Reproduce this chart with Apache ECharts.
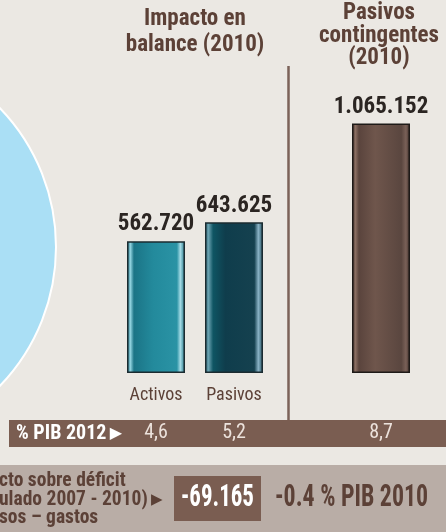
<!DOCTYPE html>
<html>
<head>
<meta charset="utf-8">
<script src="https://cdn.jsdelivr.net/npm/echarts@6/dist/echarts.min.js"></script>
<style>
  html, body { margin: 0; padding: 0; background: #ebe8e3; }
  #chart { width: 446px; height: 532px; }
</style>
</head>
<body>
<div id="chart"></div>
<script>
// datos
var categories = ['Activos', 'Pasivos'];
var balanceValues = [562720, 643625];
var balancePib = ['4,6', '5,2'];
var contingentCategories = [''];
var contingentValues = [1065152];
var contingentPib = ['8,7'];
var deficitValue = '-69.165';
var deficitPib = '-0.4 % PIB 2010';

var FONT = "'Roboto Condensed', Roboto, sans-serif";
var BROWN = '#5c4137';
var BAND = '#7a5d51';

// 562720 -> 562.720
var fmt = function(v) {
    return String(v).replace(/\B(?=(\d{3})+(?!\d))/g, '.');
};

var grad = function(stops) {
    return new echarts.graphic.LinearGradient(0, 0, 1, 0, stops.map(function(s) {
        return { offset: s[0], color: s[1] };
    }));
};

var barStyles = [
    grad([[0, '#1c6f80'], [0.06, '#8fd0dd'], [0.12, '#1b7486'], [0.45, '#238a9c'], [0.86, '#2a93a5'], [0.92, '#a5dbe6'], [1, '#1f7384']]),
    grad([[0, '#2d6a78'], [0.06, '#6aa1b0'], [0.14, '#0f5563'], [0.35, '#0f3d4c'], [0.85, '#15414f'], [0.92, '#8ab3c6'], [1, '#1d4b5a']])
];
var contingentStyle = grad([[0, '#3d2d28'], [0.06, '#8a6e62'], [0.12, '#5a443d'], [0.4, '#6f564c'], [0.85, '#5a463f'], [0.93, '#7a6158'], [1, '#3d2d28']]);

var valueLabel = {
    show: true,
    position: 'top',
    distance: 5,
    fontFamily: FONT,
    fontWeight: 'bold',
    fontSize: 23,
    color: '#2b2522',
    formatter: function(p) { return fmt(p.value); }
};

var catAxis = function(gridIndex, data) {
    return {
        type: 'category',
        gridIndex: gridIndex,
        data: data,
        axisLine: { show: false },
        axisTick: { show: false },
        axisLabel: { margin: 13, fontFamily: FONT, fontSize: 18, color: BROWN }
    };
};
var pibAxis = function(gridIndex, data) {
    return {
        type: 'category',
        gridIndex: gridIndex,
        position: 'bottom',
        data: data,
        axisLine: { show: false },
        axisTick: { show: false },
        axisLabel: { margin: 50, fontFamily: FONT, fontSize: 20, color: '#ece2dc' }
    };
};
var valAxis = function(gridIndex) {
    return {
        type: 'value',
        gridIndex: gridIndex,
        min: 0,
        max: 1200000,
        show: false
    };
};

var arrowRich = {
    t: { font: 'bold 20px ' + FONT, fill: '#ffffff' },
    a: { font: '16px DejaVu Sans', fill: '#ffffff' }
};
var arrowRichBrown = {
    t: { font: 'bold 19.5px ' + FONT, fill: BROWN, lineHeight: 18.5 },
    a: { font: '15px DejaVu Sans', fill: BROWN, lineHeight: 18.5 }
};

var option = {
    animation: false,
    backgroundColor: '#ebe8e3',
    grid: [
        { left: 117, width: 156, top: 92, height: 281 },
        { left: 342, width: 78, top: 92, height: 281 }
    ],
    xAxis: [
        catAxis(0, categories),
        catAxis(1, contingentCategories),
        pibAxis(0, balancePib),
        pibAxis(1, contingentPib)
    ],
    yAxis: [valAxis(0), valAxis(1)],
    graphic: [
        // circulo azul
        { type: 'circle', z: -10, shape: { cx: -144, cy: 247, r: 200 },
          style: { fill: '#aadff5', stroke: '#ffffff', lineWidth: 2 } },
        // franja inferior
        { type: 'rect', z: -10, shape: { x: 0, y: 465, width: 446, height: 67 },
          style: { fill: '#b9ada6' } },
        // franja % PIB
        { type: 'rect', z: -5, shape: { x: 9, y: 420, width: 437, height: 27 },
          style: { fill: BAND } },
        // separador
        { type: 'line', z: -5, shape: { x1: 288.5, y1: 66, x2: 288.5, y2: 420 },
          style: { stroke: '#7b6259', lineWidth: 2.5 } },
        // titulos
        { type: 'text', style: {
            text: 'Impacto en\nbalance (2010)', x: 195, y: 6, align: 'center',
            font: 'bold 23px ' + FONT, fill: BROWN, lineHeight: 26 } },
        { type: 'text', style: {
            text: 'Pasivos\ncontingentes\n(2010)', x: 379, y: 2, align: 'center',
            font: 'bold 23px ' + FONT, fill: BROWN, lineHeight: 22.5 } },
        { type: 'text', style: {
            text: '{t|% PIB 2012} {a|\u25B6}', x: 16, y: 434, verticalAlign: 'middle',
            rich: arrowRich } },
        { type: 'text', style: {
            text: '{t|cto sobre déficit}\n{t|ulado 2007 - 2010)} {a|\u25B6}\n{t|sos \u2013 gastos}', x: -1, y: 472,
            rich: arrowRichBrown } },
        { type: 'rect', shape: { x: 174, y: 476, width: 87, height: 45 },
          style: { fill: BAND } },
        { type: 'text', x: 217.5, y: 498, scaleX: 0.74, style: {
            text: deficitValue, x: 0, y: 0, align: 'center', verticalAlign: 'middle',
            font: 'bold 31px ' + FONT, fill: '#ffffff' } },
        { type: 'text', x: 275, y: 498, scaleX: 0.77, style: {
            text: deficitPib, x: 0, y: 0, verticalAlign: 'middle',
            font: 'bold 31px ' + FONT, fill: BROWN } }
    ],
    series: [
        {
            type: 'bar',
            xAxisIndex: 0,
            yAxisIndex: 0,
            barWidth: 58,
            label: valueLabel,
            data: balanceValues.map(function(v, i) {
                return { value: v, itemStyle: { color: barStyles[i], borderColor: '#1b2b30', borderWidth: 1.5 } };
            })
        },
        {
            type: 'bar',
            xAxisIndex: 1,
            yAxisIndex: 1,
            barWidth: 58,
            label: valueLabel,
            data: contingentValues.map(function(v) {
                return { value: v, itemStyle: { color: contingentStyle, borderColor: '#1e1a18', borderWidth: 1.5 } };
            })
        }
    ]
};

var myChart = echarts.init(document.getElementById('chart'));
myChart.setOption(option);
</script>
</body>
</html>
